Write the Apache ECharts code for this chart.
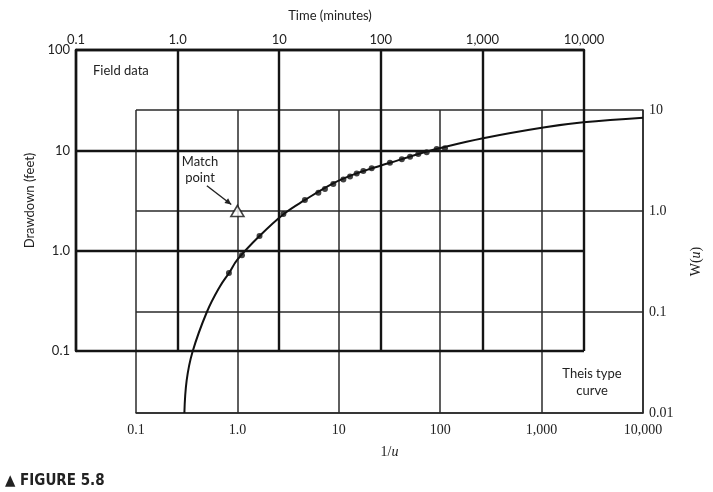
<!DOCTYPE html>
<html>
<head>
<meta charset="utf-8">
<script src="https://cdn.jsdelivr.net/npm/echarts@6/dist/echarts.min.js"></script>
<style>
html, body { margin: 0; padding: 0; background: #fff; }
#chart { width: 713px; height: 492px; }
</style>
</head>
<body>
<div id="chart"></div>
<script>
// field data (top / left axes)
var timeMin = [3.2, 4.3, 6.4, 11, 17.9, 24.3, 28.2, 34.1, 42.8, 49.8, 57.9, 67.3, 81.3, 123, 161, 194, 234, 283, 355, 428];
var drawdownFt = [0.60, 0.90, 1.40, 2.32, 3.19, 3.78, 4.11, 4.61, 5.12, 5.48, 5.87, 6.22, 6.62, 7.52, 8.13, 8.63, 9.19, 9.55, 10.3, 10.5];

// Theis type curve (bottom / right axes)
var invU = [0.3, 0.316, 0.36, 0.5, 0.67, 0.83, 1.0, 1.65, 2.85, 4.6, 8.8, 15, 32, 61, 100, 265, 1040, 2580, 10000];
var wu = [0.01, 0.021, 0.04, 0.1, 0.178, 0.245, 0.33, 0.565, 0.93, 1.28, 1.88, 2.36, 3.0, 3.67, 4.2, 5.25, 6.7, 7.55, 8.4];

var matchPoint = [1, 1];
var arrowFrom = [0.5, 1.78];
var arrowTo = [0.87, 1.16];

// tick labels, one per decade
var timeTicks = ['0.1', '1.0', '10', '100', '1,000', '10,000'];
var drawdownTicks = ['0.1', '1.0', '10', '100'];
var invUTicks = ['0.1', '1.0', '10', '100', '1,000', '10,000'];
var wuTicks = ['0.01', '0.1', '1.0', '10'];

var sans = 'Lato, "Open Sans", sans-serif';
var serif = '"Liberation Serif", "DejaVu Serif", serif';

function pair(xs, ys) {
    var out = [];
    for (var i = 0; i < xs.length; i++) out.push([xs[i], ys[i]]);
    return out;
}

function decadeLabel(list, minExp) {
    return function(v) {
        var e = Math.round(Math.log10(v));
        var s = list[e - minExp];
        return s === undefined ? '' : s;
    };
}

var thick = { color: '#141414', width: 2.4 };
var thin = { color: '#2a2a2a', width: 1.5 };

var chart = echarts.init(document.getElementById('chart'));
var option = {
    animation: false,
    backgroundColor: '#fff',
    grid: [
        { left: 76, top: 50, right: 129, bottom: 141, outerBoundsMode: 'none' },
        { left: 136, top: 110, right: 70, bottom: 79, outerBoundsMode: 'none' }
    ],
    xAxis: [
        {
            gridIndex: 0, type: 'log', logBase: 10, min: 0.1, max: 10000, position: 'top', z: 2,
            name: 'Time (minutes)', nameLocation: 'middle', nameGap: 28,
            nameTextStyle: { fontFamily: sans, fontSize: 13, color: '#222' },
            axisLine: { lineStyle: thick }, axisTick: { show: false },
            axisLabel: { formatter: decadeLabel(timeTicks, -1), margin: 4, fontFamily: sans, fontSize: 13, color: '#222' },
            splitLine: { show: true, lineStyle: thick }, minorSplitLine: { show: false }
        },
        {
            gridIndex: 1, type: 'log', logBase: 10, min: 0.1, max: 10000, position: 'bottom', z: 1,
            name: '1/{i|u}', nameLocation: 'middle', nameGap: 32,
            nameTextStyle: { fontFamily: serif, fontSize: 14, color: '#222', rich: { i: { fontFamily: serif, fontSize: 14, fontStyle: 'italic', color: '#222' } } },
            axisLine: { lineStyle: thin }, axisTick: { show: false },
            axisLabel: { formatter: decadeLabel(invUTicks, -1), margin: 10, fontFamily: serif, fontSize: 14, color: '#222' },
            splitLine: { show: true, lineStyle: thin }, minorSplitLine: { show: false }
        }
    ],
    yAxis: [
        {
            gridIndex: 0, type: 'log', logBase: 10, min: 0.1, max: 100, position: 'left', z: 2,
            name: 'Drawdown (feet)', nameLocation: 'middle', nameGap: 38,
            nameTextStyle: { fontFamily: sans, fontSize: 13, color: '#222' },
            axisLine: { lineStyle: thick }, axisTick: { show: false },
            axisLabel: { formatter: decadeLabel(drawdownTicks, -1), margin: 6, fontFamily: sans, fontSize: 13, color: '#222' },
            splitLine: { show: true, lineStyle: thick }, minorSplitLine: { show: false }
        },
        {
            gridIndex: 1, type: 'log', logBase: 10, min: 0.01, max: 10, position: 'right', z: 1,
            name: 'W({i|u})', nameLocation: 'middle', nameGap: 46,
            nameTextStyle: { fontFamily: serif, fontSize: 14, color: '#222', rich: { i: { fontFamily: serif, fontSize: 14, fontStyle: 'italic', color: '#222' } } },
            axisLine: { lineStyle: thin }, axisTick: { show: false },
            axisLabel: { formatter: decadeLabel(wuTicks, -2), margin: 6, fontFamily: serif, fontSize: 14, color: '#222' },
            splitLine: { show: true, lineStyle: thin }, minorSplitLine: { show: false }
        }
    ],
    series: [
        {
            name: 'Theis type curve', type: 'line', xAxisIndex: 1, yAxisIndex: 1, z: 5,
            data: pair(invU, wu), smooth: 0.4, showSymbol: false,
            lineStyle: { color: '#111', width: 2 }
        },
        {
            name: 'Field data', type: 'scatter', xAxisIndex: 0, yAxisIndex: 0, z: 6,
            data: pair(timeMin, drawdownFt), symbolSize: 6,
            itemStyle: { color: '#111' }
        },
        {
            name: 'Match point', type: 'scatter', xAxisIndex: 1, yAxisIndex: 1, z: 7,
            data: [matchPoint], symbol: 'triangle', symbolSize: [13, 11],
            itemStyle: { color: '#fff', borderColor: '#111', borderWidth: 1.6 }
        }
    ]
};
chart.setOption(option);

// arrow pointing at the match point, placed through the type-curve axes
var p0 = chart.convertToPixel({ xAxisIndex: 1, yAxisIndex: 1 }, arrowFrom);
var p1 = chart.convertToPixel({ xAxisIndex: 1, yAxisIndex: 1 }, arrowTo);
var ang = Math.atan2(p1[1] - p0[1], p1[0] - p0[0]);
var head = 7, spread = 0.45;

chart.setOption({
    graphic: [
        { id: 'fieldText', type: 'text', left: 93, top: 64, style: { text: 'Field data', font: '13px ' + sans, fill: '#222' } },
        { id: 'matchText', type: 'text', x: 200, y: 154, style: { text: 'Match\npoint', font: '13px ' + sans, fill: '#222', textAlign: 'center', lineHeight: 16 } },
        { id: 'theisText', type: 'text', x: 592, y: 365, style: { text: 'Theis type\ncurve', font: '13px ' + sans, fill: '#222', textAlign: 'center', lineHeight: 17 } },
        { id: 'figText', type: 'text', left: 5, top: 474, style: { text: '\u25B2 FIGURE 5.8', font: 'bold 15px "Liberation Sans Narrow", "DejaVu Sans Condensed", sans-serif', fill: '#222' } },
        { id: 'arrowLine', type: 'line', z: 10, shape: { x1: p0[0], y1: p0[1], x2: p1[0], y2: p1[1] }, style: { stroke: '#222', lineWidth: 1.4 } },
        {
            id: 'arrowHead', type: 'polygon', z: 10,
            shape: { points: [
                [p1[0], p1[1]],
                [p1[0] - head * Math.cos(ang - spread), p1[1] - head * Math.sin(ang - spread)],
                [p1[0] - head * Math.cos(ang + spread), p1[1] - head * Math.sin(ang + spread)]
            ] },
            style: { fill: '#222' }
        }
    ]
});
</script>
</body>
</html>
